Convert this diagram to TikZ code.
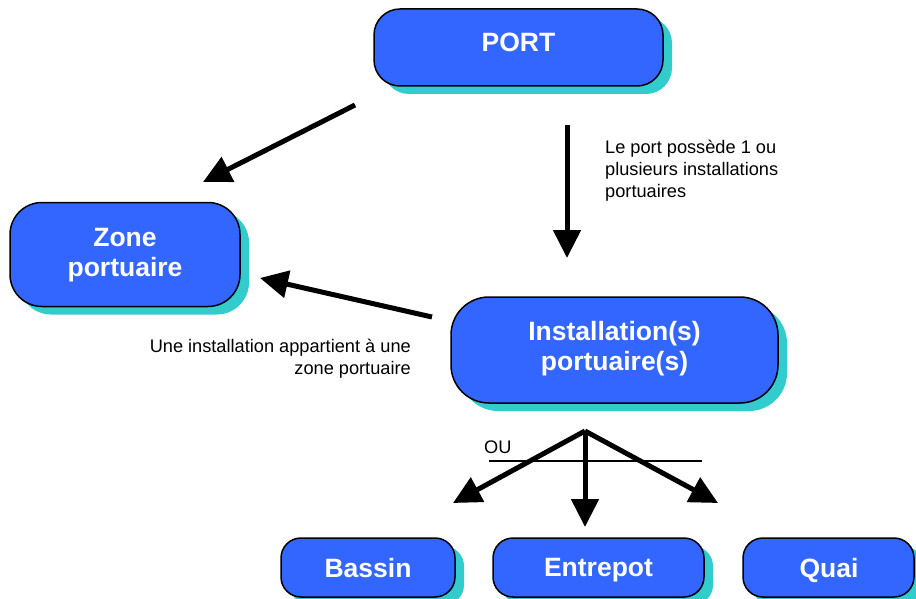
\documentclass[tikz,border=0pt]{standalone}
\usepackage{fontspec}
\setmainfont{Liberation Sans}
\usetikzlibrary{arrows.meta,shadows}
\definecolor{boxblue}{HTML}{3366FF}
\definecolor{shadowteal}{HTML}{33CCCC}
\begin{document}
\begin{tikzpicture}[x=1pt,y=-1pt,
  box/.style={draw=black, line width=1.5pt, fill=boxblue, rectangle, inner sep=0pt,
    general shadow={fill=shadowteal, shadow xshift=9pt, shadow yshift=-8pt}},
  boxtext/.style={text=white, font=\fontsize{26.5}{30}\selectfont\bfseries, align=center, inner sep=0pt, anchor=north},
  note/.style={font=\fontsize{18.2}{21.7}\selectfont, inner sep=0pt},
  bigarrow/.style={line width=5pt, -{Triangle[length=28pt,width=27pt]}}
]
\useasboundingbox (0,0) rectangle (916,599);

% boxes
\node[box, rounded corners=26pt, minimum width=289pt, minimum height=77pt] (port) at (518.5,47.5) {};
\node[box, rounded corners=32pt, minimum width=230pt, minimum height=104pt] (zone) at (125,254.5) {};
\node[box, rounded corners=38pt, minimum width=327pt, minimum height=106pt] (inst) at (614.5,350) {};
\node[box, rounded corners=20pt, minimum width=174pt, minimum height=59pt] (bassin) at (368,567.5) {};
\node[box, rounded corners=20pt, minimum width=211pt, minimum height=59pt] (entrepot) at (598.5,567.5) {};
\node[box, rounded corners=20pt, minimum width=171pt, minimum height=59pt] (quai) at (828.5,567.5) {};

% box texts
\node[boxtext] (porttext) at (518.5,33) {PORT};
\node[boxtext] (zonetext) at (125,228) {Zone\\portuaire};
\node[boxtext] (insttext) at (614.5,321) {Installation(s)\\portuaire(s)};
\node[boxtext] (bassintext) at (368,558) {Bassin};
\node[boxtext] (entrepottext) at (598.5,558) {Entrepot};
\node[boxtext] (quaitext) at (829,558) {Quai};

% notes
\node[note, anchor=north west, align=left] (n1) at (605,140) {Le port possède 1 ou\\plusieurs installations\\portuaires};
\node[note, anchor=north east, align=right] (n2) at (411,339) {Une installation appartient à une\\zone portuaire};
\node[note, anchor=north west] (ou) at (484,441) {OU};

% arrow end points
\coordinate (a1s) at (355,105);
\coordinate (a1e) at (203,182);
\coordinate (a2s) at (567,125);
\coordinate (a2e) at (567,258);
\coordinate (a3s) at (432,317);
\coordinate (a3e) at (260,278);
\coordinate (apex) at (585,431);
\coordinate (tipL) at (453,503);
\coordinate (tipM) at (585,527);
\coordinate (tipR) at (718,503);
\coordinate (ouL) at (489,461);
\coordinate (ouR) at (702,461);

\draw[bigarrow] (a1s) -- (a1e);
\draw[bigarrow] (a2s) -- (a2e);
\draw[bigarrow] (a3s) -- (a3e);
\draw[line width=1.5pt] (ouL) -- (ouR);
\draw[bigarrow] (apex) -- (tipL);
\draw[bigarrow] (apex) -- (tipM);
\draw[bigarrow] (apex) -- (tipR);
\end{tikzpicture}
\end{document}
